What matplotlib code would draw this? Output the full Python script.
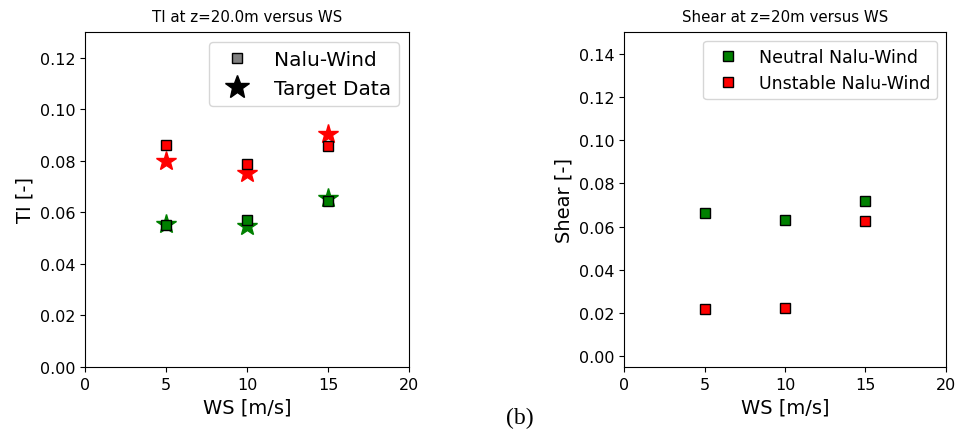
import matplotlib
matplotlib.use("Agg")
import matplotlib.pyplot as plt
from matplotlib.lines import Line2D

ws = [5, 10, 15]
ti_neutral_nalu = [0.0551, 0.0572, 0.0645]
ti_neutral_target = [0.0553, 0.0549, 0.0655]
ti_unstable_nalu = [0.0863, 0.0786, 0.0858]
ti_unstable_target = [0.0801, 0.0752, 0.0904]
shear_neutral = [0.0664, 0.0632, 0.0716]
shear_unstable = [0.0219, 0.0225, 0.0627]

fig = plt.figure(figsize=(9.57, 4.35), dpi=100)
W, H = 957, 435
ax1 = fig.add_axes([85 / W, 1 - 368 / H, 324 / W, 335 / H])
ax2 = fig.add_axes([624 / W, 1 - 368 / H, 322 / W, 335 / H])

# Left panel
ax1.plot(ws, ti_neutral_target, linestyle='none', marker='*', color='green', markersize=15, zorder=2)
ax1.plot(ws, ti_unstable_target, linestyle='none', marker='*', color='red', markersize=15, zorder=2)
ax1.plot(ws, ti_neutral_nalu, linestyle='none', marker='s', markerfacecolor='green', markeredgecolor='black', markersize=7.5, zorder=3)
ax1.plot(ws, ti_unstable_nalu, linestyle='none', marker='s', markerfacecolor='red', markeredgecolor='black', markersize=7.5, zorder=3)
ax1.set_xlim(0, 20)
ax1.set_ylim(0, 0.13)
ax1.set_xticks([0, 5, 10, 15, 20])
ax1.set_yticks([0, 0.02, 0.04, 0.06, 0.08, 0.10, 0.12])
ax1.set_yticklabels(['0.00', '0.02', '0.04', '0.06', '0.08', '0.10', '0.12'])
ax1.tick_params(labelsize=11.5)
ax1.set_xlabel('WS [m/s]', fontsize=14)
ax1.set_ylabel('TI [-]', fontsize=14)
ax1.set_title('TI at z=20.0m versus WS', fontsize=10.8, pad=8)
h1 = [Line2D([], [], linestyle='none', marker='s', markerfacecolor='gray', markeredgecolor='black', markersize=7),
      Line2D([], [], linestyle='none', marker='*', color='black', markersize=18)]
ax1.legend(h1, ['Nalu-Wind', 'Target Data'], loc='upper right', fontsize=14.5)

# Right panel
ax2.plot(ws, shear_neutral, linestyle='none', marker='s', markerfacecolor='green', markeredgecolor='black', markersize=7.5, label='Neutral Nalu-Wind')
ax2.plot(ws, shear_unstable, linestyle='none', marker='s', markerfacecolor='red', markeredgecolor='black', markersize=7.5, label='Unstable Nalu-Wind')
ax2.set_xlim(0, 20)
ax2.set_ylim(-0.005, 0.15)
ax2.set_xticks([0, 5, 10, 15, 20])
ax2.set_yticks([0, 0.02, 0.04, 0.06, 0.08, 0.10, 0.12, 0.14])
ax2.set_yticklabels(['0.00', '0.02', '0.04', '0.06', '0.08', '0.10', '0.12', '0.14'])
ax2.tick_params(labelsize=11.5)
ax2.set_xlabel('WS [m/s]', fontsize=14)
ax2.set_ylabel('Shear [-]', fontsize=14)
ax2.set_title('Shear at z=20m versus WS', fontsize=10.8, pad=8)
ax2.legend(loc='upper right', fontsize=12.5)

fig.text(520 / W, 1 - 418 / H, '(b)', family='Liberation Serif', fontsize=17, ha='center', va='center')

fig.savefig('out.png', dpi=100)
